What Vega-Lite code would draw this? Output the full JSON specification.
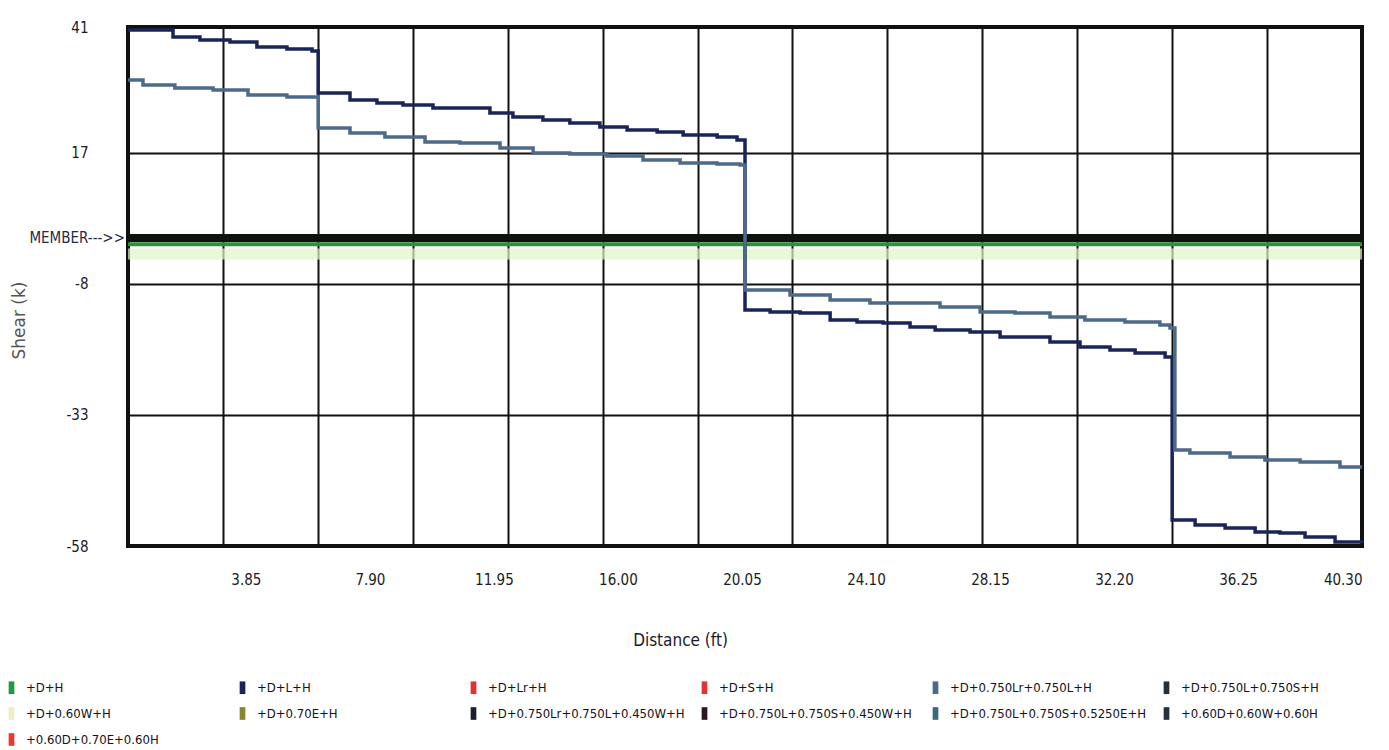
{
  "$schema": "https://vega.github.io/schema/vega-lite/v6.json",
  "width": 1234,
  "height": 519,
  "autosize": {"type": "none"},
  "padding": {"left": 128, "top": 27, "right": 27, "bottom": 204},
  "background": "white",
  "config": {
    "view": {"stroke": "#111111", "strokeWidth": 4},
    "font": "DejaVu Sans Condensed"
  },
  "datasets": {
    "shear": [
      {"x": 0, "shear": 40.43, "combo": "+D+L+H"},
      {"x": 1.47, "shear": 39.09, "combo": "+D+L+H"},
      {"x": 2.35, "shear": 38.52, "combo": "+D+L+H"},
      {"x": 3.33, "shear": 38.14, "combo": "+D+L+H"},
      {"x": 4.21, "shear": 37.19, "combo": "+D+L+H"},
      {"x": 5.19, "shear": 36.8, "combo": "+D+L+H"},
      {"x": 6.01, "shear": 36.42, "combo": "+D+L+H"},
      {"x": 6.21, "shear": 28.41, "combo": "+D+L+H"},
      {"x": 7.25, "shear": 27.08, "combo": "+D+L+H"},
      {"x": 8.13, "shear": 26.5, "combo": "+D+L+H"},
      {"x": 8.98, "shear": 26.12, "combo": "+D+L+H"},
      {"x": 9.96, "shear": 25.55, "combo": "+D+L+H"},
      {"x": 11.82, "shear": 24.6, "combo": "+D+L+H"},
      {"x": 12.57, "shear": 23.83, "combo": "+D+L+H"},
      {"x": 13.55, "shear": 23.26, "combo": "+D+L+H"},
      {"x": 14.43, "shear": 22.69, "combo": "+D+L+H"},
      {"x": 15.41, "shear": 21.92, "combo": "+D+L+H"},
      {"x": 16.3, "shear": 21.35, "combo": "+D+L+H"},
      {"x": 17.28, "shear": 20.97, "combo": "+D+L+H"},
      {"x": 18.13, "shear": 20.4, "combo": "+D+L+H"},
      {"x": 19.24, "shear": 20.02, "combo": "+D+L+H"},
      {"x": 19.89, "shear": 19.44, "combo": "+D+L+H"},
      {"x": 20.15, "shear": -12.98, "combo": "+D+L+H"},
      {"x": 20.97, "shear": -13.36, "combo": "+D+L+H"},
      {"x": 21.95, "shear": -13.55, "combo": "+D+L+H"},
      {"x": 22.93, "shear": -14.89, "combo": "+D+L+H"},
      {"x": 23.81, "shear": -15.27, "combo": "+D+L+H"},
      {"x": 24.66, "shear": -15.46, "combo": "+D+L+H"},
      {"x": 25.54, "shear": -16.23, "combo": "+D+L+H"},
      {"x": 26.36, "shear": -16.8, "combo": "+D+L+H"},
      {"x": 27.5, "shear": -17.18, "combo": "+D+L+H"},
      {"x": 28.48, "shear": -18.13, "combo": "+D+L+H"},
      {"x": 30.11, "shear": -19.09, "combo": "+D+L+H"},
      {"x": 31.09, "shear": -20.04, "combo": "+D+L+H"},
      {"x": 32.07, "shear": -20.61, "combo": "+D+L+H"},
      {"x": 32.89, "shear": -21.19, "combo": "+D+L+H"},
      {"x": 33.87, "shear": -21.95, "combo": "+D+L+H"},
      {"x": 34.1, "shear": -53.04, "combo": "+D+L+H"},
      {"x": 34.85, "shear": -54.0, "combo": "+D+L+H"},
      {"x": 35.83, "shear": -54.57, "combo": "+D+L+H"},
      {"x": 36.81, "shear": -55.33, "combo": "+D+L+H"},
      {"x": 37.62, "shear": -55.52, "combo": "+D+L+H"},
      {"x": 38.44, "shear": -56.28, "combo": "+D+L+H"},
      {"x": 39.42, "shear": -57.24, "combo": "+D+L+H"},
      {"x": 40.3, "shear": -57.43, "combo": "+D+L+H"},
      {"x": 0, "shear": 30.89, "combo": "+D+0.750Lr+0.750L+H"},
      {"x": 0.49, "shear": 29.94, "combo": "+D+0.750Lr+0.750L+H"},
      {"x": 1.53, "shear": 29.36, "combo": "+D+0.750Lr+0.750L+H"},
      {"x": 2.78, "shear": 28.98, "combo": "+D+0.750Lr+0.750L+H"},
      {"x": 3.92, "shear": 28.03, "combo": "+D+0.750Lr+0.750L+H"},
      {"x": 5.19, "shear": 27.65, "combo": "+D+0.750Lr+0.750L+H"},
      {"x": 6.21, "shear": 21.73, "combo": "+D+0.750Lr+0.750L+H"},
      {"x": 7.25, "shear": 20.78, "combo": "+D+0.750Lr+0.750L+H"},
      {"x": 8.39, "shear": 20.02, "combo": "+D+0.750Lr+0.750L+H"},
      {"x": 9.7, "shear": 19.06, "combo": "+D+0.750Lr+0.750L+H"},
      {"x": 10.84, "shear": 18.87, "combo": "+D+0.750Lr+0.750L+H"},
      {"x": 12.15, "shear": 17.92, "combo": "+D+0.750Lr+0.750L+H"},
      {"x": 13.23, "shear": 16.96, "combo": "+D+0.750Lr+0.750L+H"},
      {"x": 14.43, "shear": 16.77, "combo": "+D+0.750Lr+0.750L+H"},
      {"x": 15.64, "shear": 16.39, "combo": "+D+0.750Lr+0.750L+H"},
      {"x": 16.82, "shear": 15.63, "combo": "+D+0.750Lr+0.750L+H"},
      {"x": 18.03, "shear": 15.06, "combo": "+D+0.750Lr+0.750L+H"},
      {"x": 19.24, "shear": 14.87, "combo": "+D+0.750Lr+0.750L+H"},
      {"x": 19.99, "shear": 14.68, "combo": "+D+0.750Lr+0.750L+H"},
      {"x": 20.15, "shear": -9.17, "combo": "+D+0.750Lr+0.750L+H"},
      {"x": 21.62, "shear": -10.12, "combo": "+D+0.750Lr+0.750L+H"},
      {"x": 22.93, "shear": -11.08, "combo": "+D+0.750Lr+0.750L+H"},
      {"x": 24.23, "shear": -11.65, "combo": "+D+0.750Lr+0.750L+H"},
      {"x": 26.52, "shear": -12.41, "combo": "+D+0.750Lr+0.750L+H"},
      {"x": 27.83, "shear": -13.36, "combo": "+D+0.750Lr+0.750L+H"},
      {"x": 28.97, "shear": -13.55, "combo": "+D+0.750Lr+0.750L+H"},
      {"x": 30.11, "shear": -14.32, "combo": "+D+0.750Lr+0.750L+H"},
      {"x": 31.25, "shear": -14.89, "combo": "+D+0.750Lr+0.750L+H"},
      {"x": 32.56, "shear": -15.27, "combo": "+D+0.750Lr+0.750L+H"},
      {"x": 33.7, "shear": -15.84, "combo": "+D+0.750Lr+0.750L+H"},
      {"x": 34.03, "shear": -16.42, "combo": "+D+0.750Lr+0.750L+H"},
      {"x": 34.19, "shear": -39.69, "combo": "+D+0.750Lr+0.750L+H"},
      {"x": 34.68, "shear": -40.26, "combo": "+D+0.750Lr+0.750L+H"},
      {"x": 35.99, "shear": -41.02, "combo": "+D+0.750Lr+0.750L+H"},
      {"x": 37.13, "shear": -41.6, "combo": "+D+0.750Lr+0.750L+H"},
      {"x": 38.28, "shear": -41.98, "combo": "+D+0.750Lr+0.750L+H"},
      {"x": 39.58, "shear": -42.93, "combo": "+D+0.750Lr+0.750L+H"},
      {"x": 40.3, "shear": -42.93, "combo": "+D+0.750Lr+0.750L+H"}
    ],
    "member": [
      {"label": "MEMBER--->>", "x": 0, "level": 0.75}
    ]
  },
  "layer": [
    {
      "data": {"name": "member"},
      "mark": {"type": "rule", "color": "#dff5c8", "strokeWidth": 11, "opacity": 0.7},
      "encoding": {
        "y": {"datum": -2.3, "type": "quantitative", "scale": {"domain": [-58, 41], "nice": false, "zero": false}}
      }
    },
    {
      "data": {"name": "member"},
      "mark": {"type": "rule", "color": "#2f8f3a", "strokeWidth": 4},
      "encoding": {
        "y": {"datum": -0.45, "type": "quantitative"}
      }
    },
    {
      "data": {"name": "member"},
      "mark": {"type": "rule", "color": "#0d130d", "strokeWidth": 8},
      "encoding": {
        "y": {"field": "level", "type": "quantitative"}
      }
    },
    {
      "data": {"name": "member"},
      "mark": {"type": "text", "align": "right", "baseline": "middle", "dx": -3, "fontSize": 15, "color": "#1f2a48", "font": "DejaVu Sans Condensed", "clip": false},
      "encoding": {
        "x": {
          "field": "x", "type": "quantitative",
          "scale": {"domain": [0, 40.3], "nice": false, "zero": false},
          "axis": {
            "orient": "top",
            "values": [0, 3.1, 6.2, 9.3, 12.4, 15.5, 18.6, 21.7, 24.8, 27.9, 31.0, 34.1, 37.2, 40.3],
            "grid": true, "gridColor": "#111111", "gridWidth": 2, "gridOpacity": 1,
            "labels": false, "ticks": false, "domain": false, "title": null
          }
        },
        "y": {"field": "level", "type": "quantitative"},
        "text": {"field": "label"}
      }
    },
    {
      "data": {"name": "shear"},
      "mark": {"type": "line", "interpolate": "step-after", "strokeWidth": 3.5},
      "encoding": {
        "x": {
          "field": "x", "type": "quantitative",
          "axis": {
            "orient": "bottom",
            "values": [3.85, 7.9, 11.95, 16.0, 20.05, 24.1, 28.15, 32.2, 36.25, 40.3],
            "format": ".2f",
            "grid": false, "ticks": false, "domain": false,
            "labelPadding": 26, "labelFontSize": 15, "labelColor": "#1a1a28",
            "labelFont": "DejaVu Sans Condensed",
            "title": "Distance (ft)", "titleFont": "DejaVu Sans Condensed", "titleFontSize": 17,
            "titleFontWeight": "normal", "titleColor": "#1a1a28",
            "titleX": 552, "titleY": 94, "titleBaseline": "middle", "titleAlign": "center"
          }
        },
        "y": {
          "field": "shear", "type": "quantitative",
          "axis": {
            "values": [41, 17, -8, -33, -58],
            "labelExpr": "'' + datum.value",
            "grid": true, "gridColor": "#111111", "gridWidth": 2, "gridOpacity": 1,
            "ticks": false, "domain": false,
            "labelPadding": 40, "labelFontSize": 15, "labelColor": "#1a1a28",
            "labelFont": "DejaVu Sans Condensed",
            "title": "Shear (k)", "titleFont": "DejaVu Sans", "titleFontSize": 17,
            "titleFontWeight": "normal", "titleColor": "#555555",
            "titleX": -109, "titleY": 293, "titleBaseline": "middle", "titleAlign": "center", "titleAngle": -90
          }
        },
        "color": {
          "field": "combo", "type": "nominal",
          "scale": {
            "domain": ["+D+H", "+D+L+H", "+D+Lr+H", "+D+S+H", "+D+0.750Lr+0.750L+H", "+D+0.750L+0.750S+H", "+D+0.60W+H", "+D+0.70E+H", "+D+0.750Lr+0.750L+0.450W+H", "+D+0.750L+0.750S+0.450W+H", "+D+0.750L+0.750S+0.5250E+H", "+0.60D+0.60W+0.60H", "+0.60D+0.70E+0.60H"],
            "range": ["#1f9a40", "#1b2458", "#e03232", "#e03434", "#4d6a88", "#27303f", "#eeeec4", "#86862a", "#1a1f30", "#2b1824", "#3b6a7c", "#263140", "#e83b2b"]
          },
          "legend": {
            "title": null, "orient": "none", "legendX": -123, "legendY": 654,
            "direction": "horizontal", "columns": 6, "gridAlign": "all",
            "columnPadding": 13, "rowPadding": 12,
            "symbolType": "M-0.45,-1H0.45V1H-0.45Z", "symbolSize": 160,
            "symbolStrokeWidth": 0, "symbolOpacity": 1,
            "labelFont": "DejaVu Sans Condensed", "labelFontSize": 13, "labelColor": "#111122",
            "labelOffset": 8, "labelLimit": 300, "padding": 0,
            "encode": {
              "symbols": {"update": {"fill": {"scale": "color", "field": "value"}, "fillOpacity": {"value": 1}}}
            }
          }
        }
      }
    }
  ],
  "resolve": {"axis": {"x": "independent"}}
}
